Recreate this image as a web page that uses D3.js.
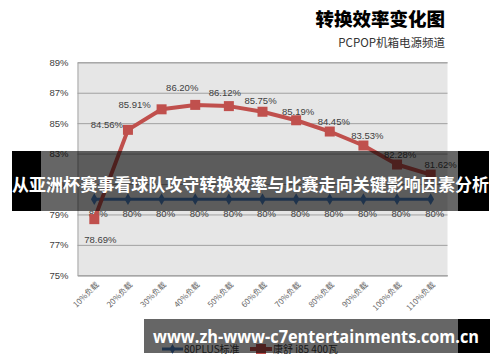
<!DOCTYPE html>
<html><head><meta charset="utf-8">
<script src="https://cdn.jsdelivr.net/npm/d3@7"></script>
<style>
html,body{margin:0;padding:0;background:#fff;}
svg{display:block;}
</style></head>
<body>
<svg id="c" width="500" height="362"></svg>
<script>
const categories = ['10%负载','20%负载','30%负载','40%负载','50%负载','60%负载','70%负载','80%负载','90%负载','100%负载','110%负载'];
const seriesNames = ['80PLUS标准','康舒 i85 400瓦'];
const std80plus = [80,80,80,80,80,80,80,80,80,80,80];
const kangshu = [78.69,84.56,85.91,86.20,86.12,85.75,85.19,84.45,83.53,82.28,81.62];
const yTicks = [75,77,79,81,83,85,87,89];
const titleText = '转换效率变化图';
const subtitleText = 'PCPOP机箱电源频道';
const bannerText = '从亚洲杯赛事看球队攻守转换效率与比赛走向关键影响因素分析';
const footerText = 'www.zh-www-c7entertainments.com.cn';

const svg = d3.select('#c');
const sans = '"Liberation Sans", Arial, sans-serif';
const cjk = '"Noto Sans CJK SC", "Noto Sans", sans-serif';
const blue = '#4f81bd', red = '#c0504d';

const x = d3.scaleBand().domain(categories).range([77.5, 447.5]).padding(0);
const y = d3.scaleLinear().domain([75, 89]).range([275.3, 62.3]);
const cx = d => x(d) + x.bandwidth() / 2;

// title
svg.append('text').attr('x', 445).attr('y', 26).attr('text-anchor', 'end')
  .attr('font-family', cjk).attr('font-weight', 900).attr('font-size', 18.5)
  .attr('fill', '#000').text(titleText);
svg.append('text').attr('x', 445).attr('y', 47).attr('text-anchor', 'end')
  .attr('font-family', cjk).attr('font-size', 11.5).attr('fill', '#333').text(subtitleText);

// plot area
svg.append('rect').attr('x', x.range()[0]).attr('y', y(89))
  .attr('width', x.range()[1] - x.range()[0]).attr('height', y(75) - y(89))
  .attr('fill', '#e6e6e6');

const yAxis = d3.axisLeft(y).tickValues(yTicks).tickFormat(d => d + '%')
  .tickSize(-(x.range()[1] - x.range()[0])).tickPadding(9);
const ga = svg.append('g').attr('transform', `translate(${x.range()[0]},0)`).call(yAxis);
ga.select('.domain').attr('stroke', '#a6a6a6');
ga.selectAll('.tick line').attr('stroke', '#a0a0a0');
ga.selectAll('.tick text').attr('font-family', sans).attr('font-size', 9.5).attr('fill', '#404040');

// x labels
const xAxis = d3.axisBottom(x).tickSize(0).tickPadding(0);
const gx = svg.append('g').attr('transform', `translate(0,${y(75)})`).call(xAxis);
gx.select('.domain').attr('stroke', '#a6a6a6');
gx.selectAll('.tick text')
  .attr('font-family', cjk).attr('font-size', 8).attr('fill', '#666')
  .attr('text-anchor', 'end')
  .attr('transform', 'translate(5,10) rotate(-45)')
  .attr('dy', '0');

// 80plus series
const line = d3.line().x((d, i) => cx(categories[i])).y(d => y(d));
svg.append('path').datum(std80plus).attr('d', line)
  .attr('fill', 'none').attr('stroke', blue).attr('stroke-width', 3);
svg.selectAll('.dia').data(std80plus).enter().append('path')
  .attr('d', d3.symbol().type(d3.symbolDiamond).size(40))
  .attr('transform', (d, i) => `translate(${cx(categories[i])},${y(d)})`)
  .attr('fill', blue);
svg.selectAll('.lb1').data(std80plus).enter().append('text')
  .attr('x', (d, i) => cx(categories[i]) + 4).attr('y', d => y(d) + 18)
  .attr('text-anchor', 'middle').attr('font-family', sans).attr('font-size', 9.5)
  .attr('fill', '#404040').text(d => d + '%');

// kangshu series
svg.append('path').datum(kangshu).attr('d', line)
  .attr('fill', 'none').attr('stroke', red).attr('stroke-width', 4).attr('stroke-linejoin', 'round');
svg.selectAll('.sq').data(kangshu).enter().append('rect')
  .attr('x', (d, i) => cx(categories[i]) - 5).attr('y', d => y(d) - 5)
  .attr('width', 10).attr('height', 10).attr('fill', red);
const nudge = [[6,20],[-21,-5],[-27,-5],[-13,-17],[-4,-14],[-2,-11],[2,-9],[4,-10],[4,-10],[3,-10],[10,-10]];
svg.selectAll('.lb2').data(kangshu).enter().append('text')
  .attr('x', (d, i) => cx(categories[i]) + nudge[i][0])
  .attr('y', (d, i) => y(d) + nudge[i][1] + 3.5)
  .attr('text-anchor', 'middle').attr('font-family', sans).attr('font-size', 9.5)
  .attr('fill', '#404040').text(d => d.toFixed(2) + '%');

// legend
const lg = svg.append('g');
lg.append('line').attr('x1', 162).attr('x2', 183).attr('y1', 349).attr('y2', 349)
  .attr('stroke', blue).attr('stroke-width', 3);
lg.append('path').attr('d', d3.symbol().type(d3.symbolDiamond).size(30)).attr('transform', 'translate(172.5,349)').attr('fill', blue);
lg.append('text').attr('x', 184).attr('y', 353).attr('font-family', cjk).attr('font-size', 10)
  .attr('fill', '#404040').text(seriesNames[0]);
lg.append('line').attr('x1', 250).attr('x2', 272).attr('y1', 349).attr('y2', 349)
  .attr('stroke', red).attr('stroke-width', 4);
lg.append('rect').attr('x', 256).attr('y', 344).attr('width', 10).attr('height', 10).attr('fill', red);
lg.append('text').attr('x', 273).attr('y', 353).attr('font-family', cjk).attr('font-size', 10)
  .attr('fill', '#404040').text(seriesNames[1]);

// overlays
svg.append('rect').attr('x', 41).attr('y', 151).attr('width', 417).attr('height', 60).attr('fill', 'rgba(0,0,0,0.6)');
svg.append('rect').attr('x', 12).attr('y', 151).attr('width', 29).attr('height', 60).attr('fill', '#000');
svg.append('rect').attr('x', 458).attr('y', 151).attr('width', 31).attr('height', 60).attr('fill', '#000');
svg.append('text').attr('x', 12).attr('y', 191).attr('font-family', cjk).attr('font-weight', 700)
  .attr('font-size', 17.6).attr('fill', '#fff')
  .attr('textLength', 477).attr('lengthAdjust', 'spacingAndGlyphs').text(bannerText);

svg.append('rect').attr('x', 144).attr('y', 319).attr('width', 314).attr('height', 34).attr('fill', 'rgba(0,0,0,0.6)');
svg.append('rect').attr('x', 458).attr('y', 319).attr('width', 32).attr('height', 34).attr('fill', '#000');
svg.append('text').attr('x', 153).attr('y', 343).attr('font-family', '"Open Sans", sans-serif').attr('font-weight', 700)
  .attr('font-size', 17.5).attr('fill', '#fff')
  .attr('textLength', 326).attr('lengthAdjust', 'spacingAndGlyphs').text(footerText);
</script>
</body></html>
